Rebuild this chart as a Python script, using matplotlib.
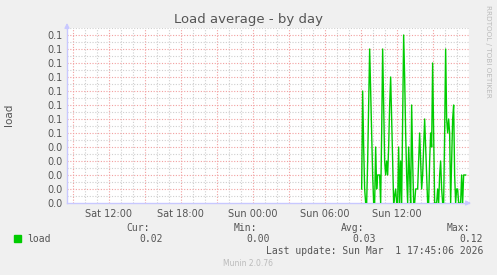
import numpy as np
import matplotlib
matplotlib.use("Agg")
import matplotlib.pyplot as plt

# load samples, one every 5 minutes, starting Sun 09:05
load = [0.01, 0.08, 0.04, 0.01, 0.00, 0.00, 0.03, 0.07, 0.11, 0.08,
        0.05, 0.02, 0.00, 0.00, 0.04, 0.01, 0.02, 0.02, 0.02, 0.00,
        0.05, 0.11, 0.07, 0.03, 0.02, 0.03, 0.02, 0.04, 0.07, 0.09,
        0.06, 0.03, 0.00, 0.005, 0.01, 0.00, 0.00, 0.04, 0.00, 0.03,
        0.00, 0.06, 0.12, 0.09, 0.05, 0.02, 0.00, 0.04, 0.02, 0.00,
        0.07, 0.03, 0.00, 0.00, 0.01, 0.01, 0.01, 0.03, 0.05, 0.03,
        0.01, 0.02, 0.04, 0.06, 0.04, 0.02, 0.00, 0.00, 0.03, 0.05,
        0.04, 0.10, 0.05, 0.00, 0.00, 0.00, 0.01, 0.00, 0.02, 0.03,
        0.01, 0.00, 0.00, 0.05, 0.11, 0.06, 0.05, 0.06, 0.05, 0.00,
        0.03, 0.06, 0.07, 0.02, 0.00, 0.01, 0.01, 0.00, 0.00, 0.00,
        0.02, 0.00, 0.02, 0.02, 0.02]
start_hour = 33 + 5 / 60.0   # hours since Sat 00:00
step = 5 / 60.0

tick_hours = [12, 18, 24, 30, 36]
tick_labels = ["Sat 12:00", "Sat 18:00", "Sun 00:00", "Sun 06:00", "Sun 12:00"]
y_ticks = [i / 100.0 for i in range(13)]

stats_names = ["Cur:", "Min:", "Avg:", "Max:"]
stats_values = ["0.02", "0.00", "0.03", "0.12"]

t = start_hour + step * np.arange(len(load))

W, H = 497, 275
fig = plt.figure(figsize=(W / 100, H / 100), dpi=100, facecolor="#F0F0F0")
ax = fig.add_axes([67 / W, 1 - 203 / H, (469 - 67) / W, (203 - 28) / H])
ax.set_facecolor("white")

ax.set_xlim(8.525, 42.03)
ax.set_ylim(0, 0.125)

# grid: gray every hour / 0.005, red every 3 hours / 0.01
for h in np.arange(9, 42.1, 1):
    c = "#F2A0A0" if h % 3 == 0 else "#CFCFCF"
    ax.axvline(h, color=c, lw=0.8, ls=(0, (1, 1.5)), zorder=1)
for v in np.arange(0.005, 0.126, 0.005):
    c = "#F2A0A0" if round(v * 1000) % 10 == 0 else "#CFCFCF"
    ax.axhline(v, color=c, lw=0.8, ls=(0, (1, 1.5)), zorder=1)

ax.plot(t, load, color="#00CC00", lw=1.0, zorder=3)

ax.set_xticks(tick_hours)
ax.set_xticklabels(tick_labels)
ax.set_yticks(y_ticks)
ax.set_yticklabels(["%.1f" % v for v in y_ticks])
ax.tick_params(axis="both", which="both", length=0, labelsize=7, colors="#555555", pad=3)
ax.tick_params(axis="x", pad=4)

for s in ["top", "right"]:
    ax.spines[s].set_visible(False)
for s in ["left", "bottom"]:
    ax.spines[s].set_color("#C8C8FF")
    ax.spines[s].set_linewidth(1)
ax.annotate("", xy=(0, 1.045), xytext=(0, 0.98), xycoords="axes fraction",
            arrowprops=dict(arrowstyle="-|>", color="#C8C8FF", lw=1, mutation_scale=7),
            annotation_clip=False)
ax.annotate("", xy=(1.012, 0), xytext=(0.99, 0), xycoords="axes fraction",
            arrowprops=dict(arrowstyle="-|>", color="#C8C8FF", lw=1, mutation_scale=7),
            annotation_clip=False)

fig.text(248 / W, 1 - 19 / H, "Load average - by day", ha="center", va="center",
         fontsize=9.5, color="#555555")
fig.text(9 / W, 1 - 115 / H, "load", rotation=90, ha="center", va="center",
         fontsize=7.5, color="#555555")
fig.text(488 / W, 1 - 5 / H, "RRDTOOL / TOBI OETIKER", rotation=270, ha="center", va="top",
         fontsize=5.2, color="#BBBBBB")

# legend
mono = "DejaVu Sans Mono"
fig.patches.append(plt.Rectangle((14 / W, 1 - 242 / H), 7 / W, 7 / H,
                                 transform=fig.transFigure, color="#00CC00"))
fig.text(27 / W, 1 - 239 / H, "load", family=mono, fontsize=7, color="#555555",
         ha="left", va="center")
name_x = [150, 257, 364, 470]
val_x = [163, 270, 376, 483]
for nm, vl, nx, vx in zip(stats_names, stats_values, name_x, val_x):
    fig.text(nx / W, 1 - 228 / H, nm, family=mono, fontsize=7, color="#555555",
             ha="right", va="center")
    fig.text(vx / W, 1 - 239 / H, vl, family=mono, fontsize=7, color="#555555",
             ha="right", va="center")
fig.text(483 / W, 1 - 251 / H, "Last update: Sun Mar  1 17:45:06 2026", family=mono,
         fontsize=7, color="#555555", ha="right", va="center")
fig.text(248 / W, 1 - 264 / H, "Munin 2.0.76", fontsize=5.5, color="#BBBBBB",
         ha="center", va="center")

fig.savefig("out.png", dpi=100, facecolor=fig.get_facecolor())
